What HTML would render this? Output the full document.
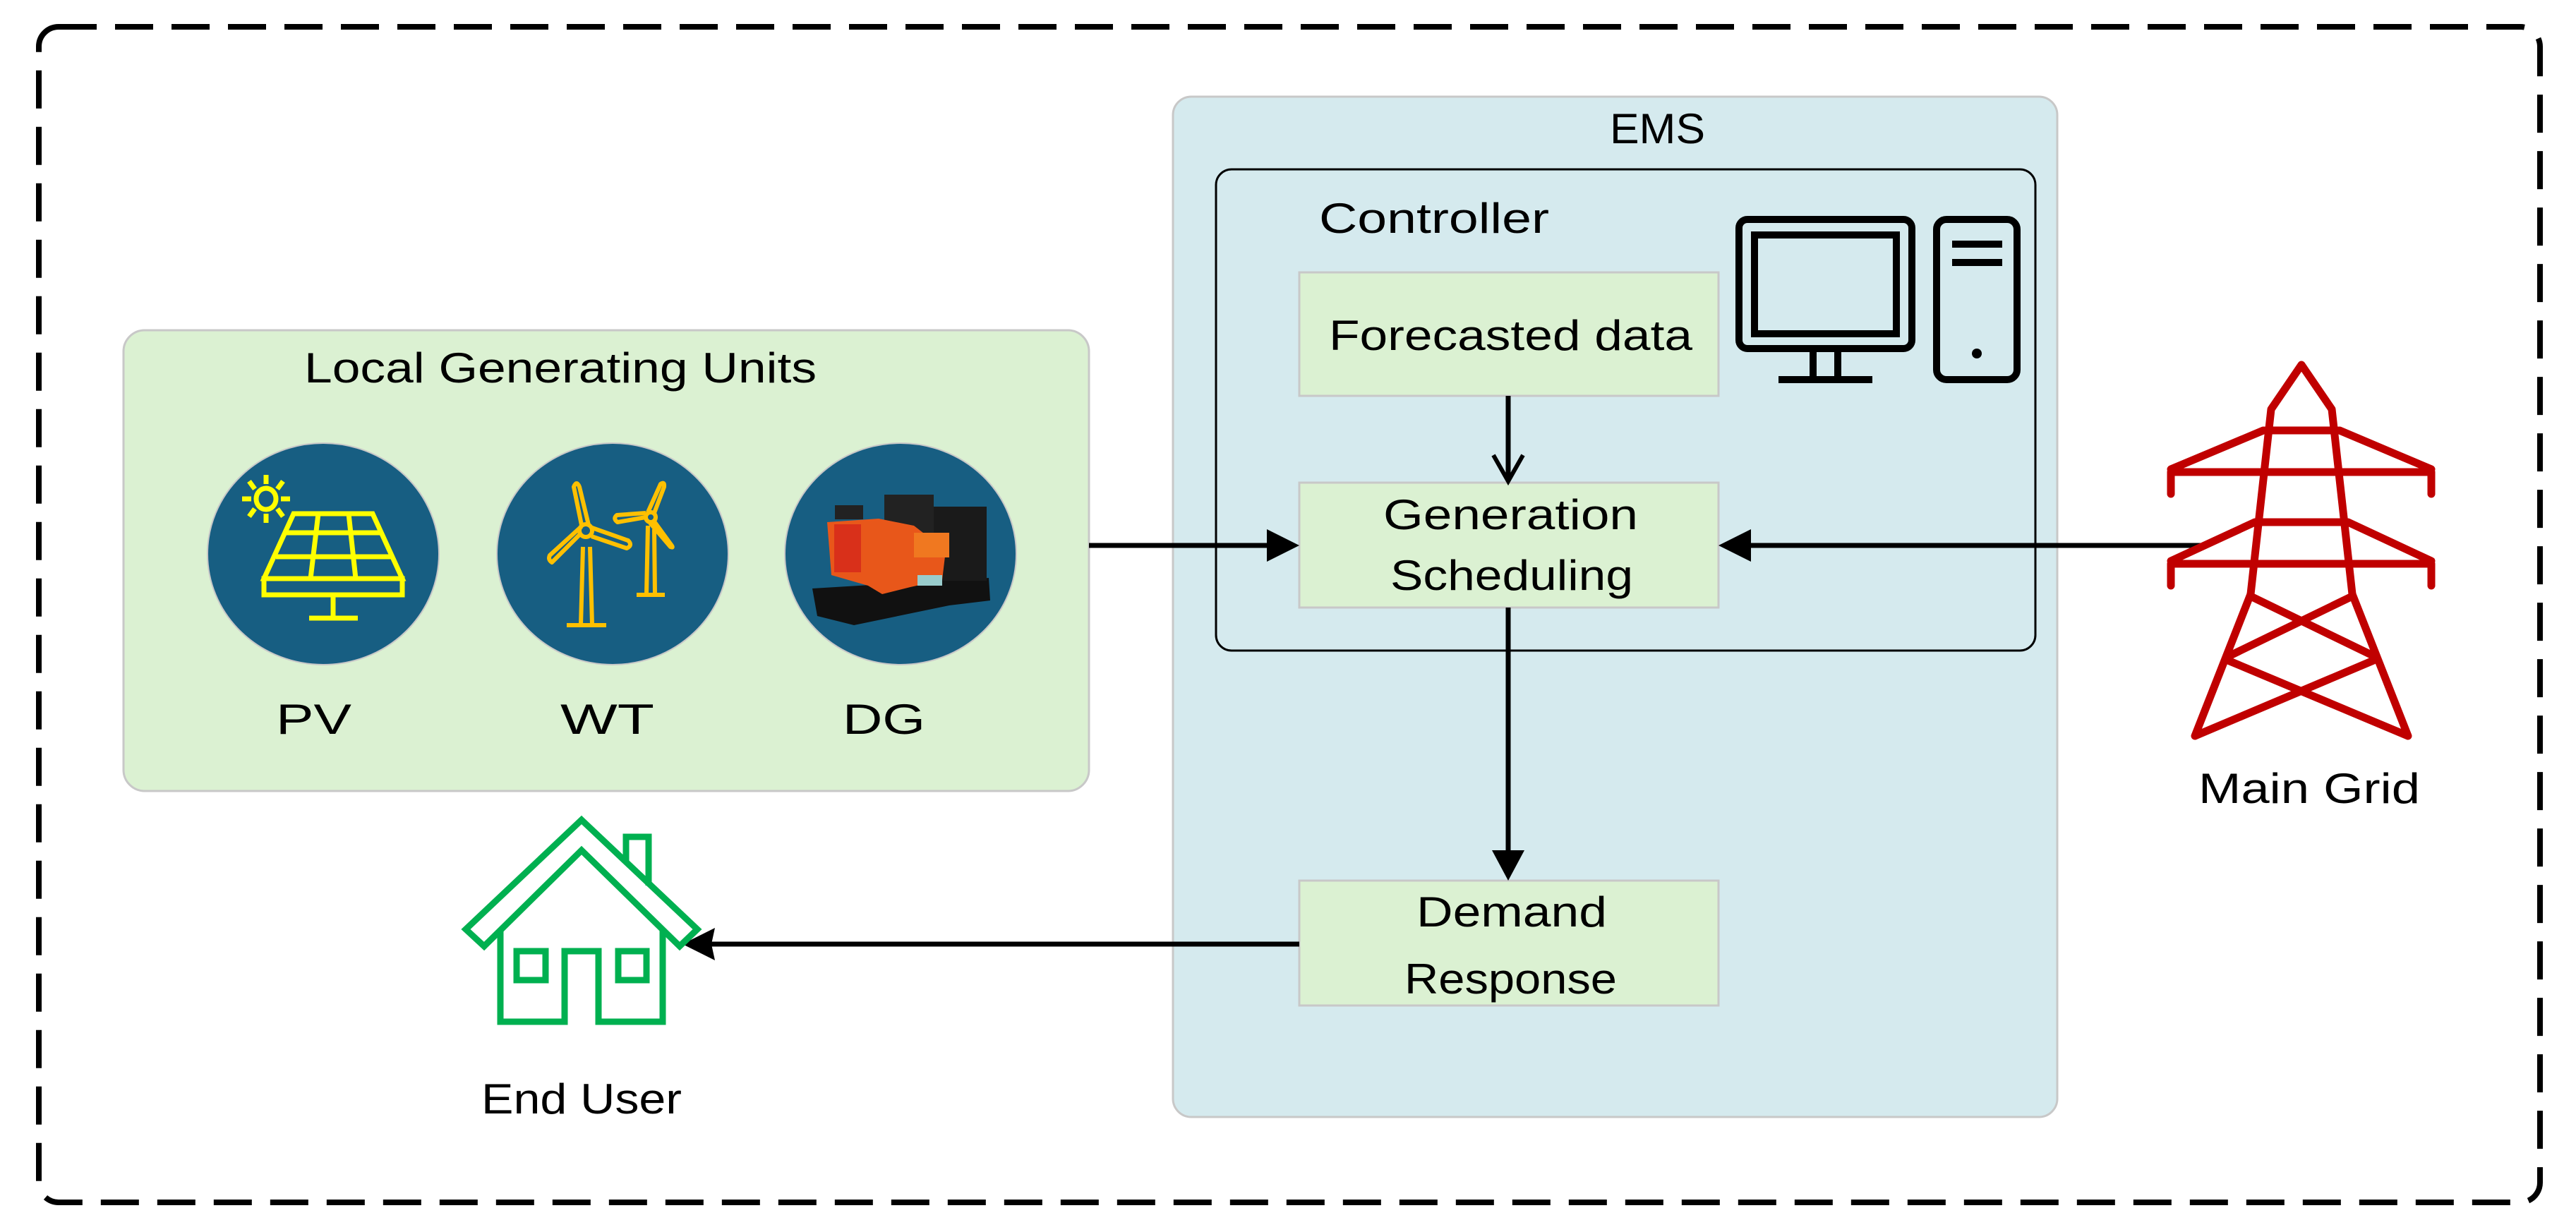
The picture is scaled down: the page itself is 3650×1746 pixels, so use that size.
<!DOCTYPE html>
<html><head><meta charset="utf-8"><style>html,body{margin:0;padding:0;background:#fff}svg{display:block}</style></head>
<body>
<svg width="3650" height="1746" viewBox="0 0 3650 1746" xmlns="http://www.w3.org/2000/svg" font-family="'Liberation Sans', sans-serif">
<rect width="3650" height="1746" fill="#fff"/>
<rect x="55" y="38" width="3544" height="1666" rx="28" fill="none" stroke="#000" stroke-width="8" stroke-dasharray="54 26"/>

<!-- Local generating units -->
<rect x="175" y="468" width="1368" height="653" rx="30" fill="#dbf1d2" stroke="#c8c8c8" stroke-width="3"/>
<text x="431" y="542" font-size="60" textLength="726" lengthAdjust="spacingAndGlyphs">Local Generating Units</text>
<ellipse cx="458" cy="785" rx="164" ry="157" fill="#175e82" stroke="#c8c8c8" stroke-width="2"/>
<ellipse cx="868" cy="785" rx="164" ry="157" fill="#175e82" stroke="#c8c8c8" stroke-width="2"/>
<ellipse cx="1276" cy="785" rx="164" ry="157" fill="#175e82" stroke="#c8c8c8" stroke-width="2"/>
<!-- PV icon -->
<g stroke="#ffff00" stroke-width="7" fill="none">
<ellipse cx="377" cy="707" rx="14" ry="15"/>
<line x1="377" y1="673" x2="377" y2="686"/><line x1="377" y1="728" x2="377" y2="741"/>
<line x1="343" y1="707" x2="356" y2="707"/><line x1="398" y1="707" x2="411" y2="707"/>
<line x1="353" y1="682" x2="361" y2="693"/><line x1="401" y1="682" x2="393" y2="693"/>
<line x1="353" y1="732" x2="361" y2="721"/><line x1="401" y1="732" x2="393" y2="721"/>
<polygon points="416,728 528,728 570,820 374,820"/>
<rect x="374" y="820" width="196" height="23"/>
<line x1="403" y1="755" x2="540" y2="755"/><line x1="391" y1="789" x2="555" y2="789"/>
<line x1="451" y1="728" x2="440" y2="820"/><line x1="494" y1="728" x2="504" y2="820"/>
<line x1="472" y1="843" x2="472" y2="876"/><line x1="438" y1="876" x2="507" y2="876"/>
</g>
<!-- WT icon -->
<g stroke="#ffc000" stroke-width="6" fill="none" stroke-linejoin="round">
<circle cx="830" cy="752" r="9"/>
<path d="M824,744 L813,690 Q817,680 821,690 L834,744"/>
<path d="M839,748 L890,766 Q897,773 888,777 L838,760"/>
<path d="M822,757 L782,797 Q776,793 779,787 L824,746"/>
<path d="M826,775 L823,886 M836,775 L839,886"/><line x1="803" y1="886" x2="859" y2="886"/>
<circle cx="922" cy="733" r="7"/>
<path d="M918,726 L936,686 Q942,682 941,690 L927,727"/>
<path d="M915,733 L875,740 Q868,735 874,730 L915,727"/>
<path d="M927,739 L951,772 Q955,777 950,775 L921,741"/>
<path d="M918,745 L916,843 M927,750 L928,843"/><line x1="902" y1="843" x2="942" y2="843"/>
</g>
<!-- DG icon -->
<g>
<polygon points="1151,834 1401,819 1403,851 1345,858 1210,886 1158,873" fill="#111"/>
<rect x="1280" y="718" width="118" height="105" fill="#1a1a1a"/>
<rect x="1253" y="701" width="70" height="60" fill="#222"/>
<rect x="1183" y="716" width="40" height="20" fill="#222"/>
<polygon points="1172,740 1245,735 1295,745 1340,780 1335,822 1290,832 1250,842 1230,830 1178,815" fill="#e8571a"/>
<rect x="1182" y="743" width="38" height="68" fill="#d9301a"/>
<rect x="1295" y="755" width="50" height="35" fill="#f07820"/>
<rect x="1300" y="815" width="35" height="15" fill="#9cc"/>
</g>
<text x="391" y="1040" font-size="60" textLength="107" lengthAdjust="spacingAndGlyphs">PV</text>
<text x="794" y="1040" font-size="60" textLength="133" lengthAdjust="spacingAndGlyphs">WT</text>
<text x="1194" y="1040" font-size="60" textLength="117" lengthAdjust="spacingAndGlyphs">DG</text>

<!-- EMS -->
<rect x="1662" y="137" width="1253" height="1446" rx="26" fill="#d5eaee" stroke="#c8c8c8" stroke-width="3"/>
<text x="2281" y="203" font-size="60" textLength="135" lengthAdjust="spacingAndGlyphs">EMS</text>
<rect x="1723" y="240" width="1161" height="682" rx="22" fill="none" stroke="#000" stroke-width="3"/>
<text x="1869" y="330" font-size="60" textLength="326" lengthAdjust="spacingAndGlyphs">Controller</text>
<!-- computer -->
<g stroke="#000" stroke-width="10" fill="none">
<rect x="2464" y="311" width="245" height="183" rx="12"/>
<rect x="2486" y="333" width="201" height="140"/>
<line x1="2569" y1="499" x2="2569" y2="533"/><line x1="2604" y1="499" x2="2604" y2="533"/>
<line x1="2520" y1="538" x2="2653" y2="538"/>
<rect x="2744" y="311" width="114" height="227" rx="14"/>
<line x1="2766" y1="346" x2="2837" y2="346"/><line x1="2766" y1="372" x2="2837" y2="372"/>
</g>
<circle cx="2801" cy="501" r="7" fill="#000"/>

<rect x="1841" y="386" width="594" height="175" fill="#dbf1d2" stroke="#c8c8c8" stroke-width="3"/>
<text x="1883" y="496" font-size="60" textLength="515" lengthAdjust="spacingAndGlyphs">Forecasted data</text>
<rect x="1841" y="684" width="594" height="177" fill="#dbf1d2" stroke="#c8c8c8" stroke-width="3"/>
<text x="1960" y="750" font-size="60" textLength="361" lengthAdjust="spacingAndGlyphs">Generation</text>
<text x="1970" y="836" font-size="60" textLength="344" lengthAdjust="spacingAndGlyphs">Scheduling</text>
<rect x="1841" y="1248" width="594" height="177" fill="#dbf1d2" stroke="#c8c8c8" stroke-width="3"/>
<text x="2007" y="1313" font-size="60" textLength="270" lengthAdjust="spacingAndGlyphs">Demand</text>
<text x="1990" y="1408" font-size="60" textLength="301" lengthAdjust="spacingAndGlyphs">Response</text>

<!-- arrows -->
<g stroke="#000" stroke-width="7" fill="none">
<line x1="2137" y1="561" x2="2137" y2="680"/>
<polyline points="2116,645 2137,682 2158,645" stroke-width="6"/>
<line x1="1543" y1="773" x2="1800" y2="773"/>
<line x1="3120" y1="773" x2="2476" y2="773"/>
<line x1="2137" y1="861" x2="2137" y2="1210"/>
<line x1="1841" y1="1338" x2="1005" y2="1338"/>
</g>
<polygon points="1841,773 1795,750 1795,796" fill="#000"/>
<polygon points="2435,773 2481,750 2481,796" fill="#000"/>
<polygon points="2137,1248 2114,1205 2160,1205" fill="#000"/>
<polygon points="967,1338 1013,1315 1008,1338 1013,1361" fill="#000"/>

<!-- house -->
<g stroke="#00b050" stroke-width="9" fill="none" stroke-linejoin="miter">
<polygon points="824,1162 988,1317 963,1341 824,1205 686,1341 660,1317"/>
<polyline points="887,1222 887,1186 919,1186 919,1255"/>
<polyline points="709,1317 709,1448 800,1448 800,1348 848,1348 848,1448 939,1448 939,1317"/>
<rect x="732" y="1348" width="41" height="41"/>
<rect x="876" y="1348" width="40" height="41"/>
</g>
<text x="682" y="1578" font-size="60" textLength="284" lengthAdjust="spacingAndGlyphs">End User</text>

<!-- tower -->
<g stroke="#c00000" stroke-width="11" fill="none" stroke-linecap="round" stroke-linejoin="round">
<polyline points="3189,842 3218,580 3261,517 3304,580 3333,842"/>
<polyline points="3189,842 3110,1043 3363,936"/>
<polyline points="3333,842 3412,1043 3157,936"/>
<line x1="3189" y1="845" x2="3360" y2="928"/>
<line x1="3333" y1="845" x2="3162" y2="928"/>
<line x1="3210" y1="610" x2="3312" y2="610"/>
<line x1="3198" y1="740" x2="3324" y2="740"/>
<polyline points="3076,700 3076,669 3445,669 3445,700"/>
<line x1="3207" y1="610" x2="3076" y2="665"/><line x1="3315" y1="610" x2="3445" y2="665"/>
<polyline points="3076,830 3076,799 3445,799 3445,830"/>
<line x1="3195" y1="740" x2="3076" y2="795"/><line x1="3327" y1="740" x2="3445" y2="795"/>
</g>
<text x="3115" y="1138" font-size="60" textLength="314" lengthAdjust="spacingAndGlyphs">Main Grid</text>
</svg>
</body></html>
